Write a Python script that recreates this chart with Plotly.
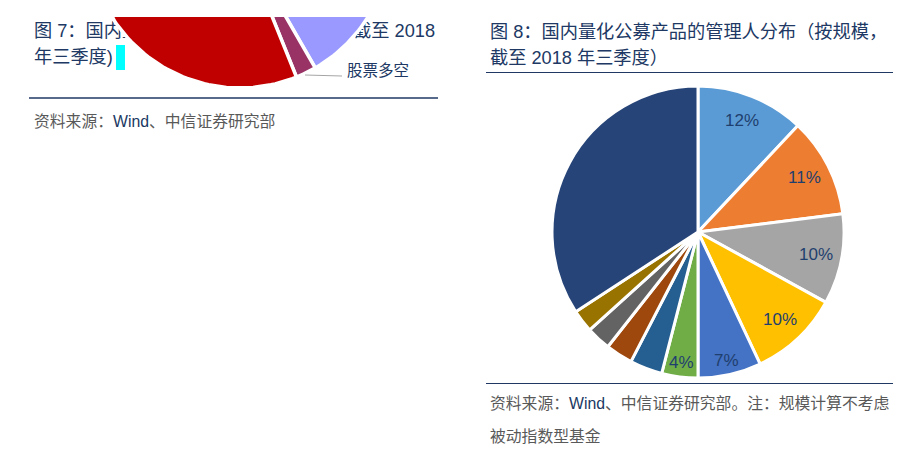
import numpy as np
import plotly.graph_objects as go

W, H = 904, 466

# ---------- Figure 8 data (manager distribution by AUM) ----------
mgr_labels = ["管理人1", "管理人2", "管理人3", "管理人4", "管理人5", "管理人6",
              "管理人7", "管理人8", "管理人9", "管理人10", "其他"]
mgr_values = [12, 11, 10, 10, 7, 4, 3.6, 3.0, 2.7, 2.5, 34.2]
mgr_text = ["12%", "11%", "10%", "10%", "7%", "4%", "", "", "", "", ""]
mgr_colors = ["#5B9BD5", "#ED7D31", "#A5A5A5", "#FFC000", "#4472C4", "#70AD47",
              "#255E91", "#9E480E", "#636363", "#997300", "#264478"]

# ---------- Figure 7 data (partially visible pie, product types) ----------
type_labels = ["量化对冲", "指数增强", "股票多空", "主动量化"]
type_values = [14.0, 27.7, 2.2, 56.1]
type_colors = ["#FF8080", "#9999FF", "#993366", "#C00000"]

NAVY = "#203864"
GREY = "#595959"
FONT = "Liberation Sans, Arial, Noto Sans CJK SC, sans-serif"

def px(x):
    return x / W

def py(y):
    return 1 - y / H

fig = go.Figure()

# text of figure 7 title (drawn beneath the overflowing pie)
fig.add_trace(go.Scatter(x=[34], y=[-32], mode="text", text=["图 7：国内量化公募"],
                         textposition="middle right",
                         textfont=dict(size=18.2, color=NAVY, family=FONT),
                         hoverinfo="skip", showlegend=False))
fig.add_trace(go.Scatter(x=[435], y=[-32], mode="text", text=["产品的类型分布（按规模，截至 2018"],
                         textposition="middle left",
                         textfont=dict(size=18.2, color=NAVY, family=FONT),
                         hoverinfo="skip", showlegend=False))
fig.add_trace(go.Scatter(x=[34], y=[-58], mode="text", text=["年三季度)"],
                         textposition="middle right",
                         textfont=dict(size=18.2, color=NAVY, family=FONT),
                         hoverinfo="skip", showlegend=False))

# overflowing pie of figure 7, wedges built from the values
cx, cy, r = 240, 63, 151
cum = np.concatenate([[0], np.cumsum(type_values)]) / np.sum(type_values) * 2 * np.pi
for i, lab in enumerate(type_labels):
    th = np.linspace(cum[i], cum[i + 1], 120)
    xs = np.concatenate([[cx], cx + r * np.sin(th), [cx]])
    ys = np.concatenate([[cy], cy + r * np.cos(th), [cy]])
    fig.add_trace(go.Scatter(x=xs, y=ys, mode="lines", fill="toself",
                             fillcolor=type_colors[i],
                             line=dict(color="white", width=3.5),
                             name=lab, hoverinfo="name", showlegend=False))

# figure 8 pie
pc_x, pc_y, pr = 698, 232, 146
fig.add_trace(go.Pie(
    labels=mgr_labels, values=mgr_values,
    textinfo="none",
    sort=False, direction="clockwise", rotation=0,
    marker=dict(colors=mgr_colors, line=dict(color="white", width=3)),
    domain=dict(x=[px(pc_x - pr), px(pc_x + pr)], y=[py(pc_y + pr), py(pc_y - pr)]),
    showlegend=False, hoverinfo="label+percent"))

shapes = [
    # cyan cursor block
    dict(type="rect", xref="x", yref="y", x0=116, x1=125, y0=-70, y1=-45,
         fillcolor="#00FFFF", line=dict(width=0), layer="below"),
    # separator lines
    dict(type="line", xref="paper", yref="paper", x0=px(29), x1=px(438), y0=py(98), y1=py(98),
         line=dict(color="#1F3864", width=1.5)),
    dict(type="line", xref="paper", yref="paper", x0=px(486), x1=px(893), y0=py(72.5), y1=py(72.5),
         line=dict(color="#203864", width=1)),
    dict(type="line", xref="paper", yref="paper", x0=px(486), x1=px(893), y0=py(383.5), y1=py(383.5),
         line=dict(color="#203864", width=1.2)),
    # leader line for 股票多空
    dict(type="line", xref="paper", yref="paper", x0=px(305), x1=px(342), y0=py(75), y1=py(76),
         line=dict(color="#A6A6A6", width=1.2)),
]

def ann(x, y, text, size, color=NAVY, anchor="left"):
    return dict(x=px(x), y=py(y), xref="paper", yref="paper", text=text, showarrow=False,
                xanchor=anchor, yanchor="middle",
                font=dict(size=size, color=color, family=FONT))

wind = "<span style='color:#203864'>Wind</span>"
annotations = [
    ann(345, 71, "股票多空", 15.5),
    ann(32, 122, "资料来源：" + wind + "、中信证券研究部", 15.8, GREY),
    ann(488, 32, "图 8：国内量化公募产品的管理人分布（按规模，", 18.2),
    ann(488, 58, "截至 2018 年三季度）", 18.2),
    ann(488, 403, "资料来源：" + wind + "、中信证券研究部。注：规模计算不考虑", 15.8, GREY),
    ann(488, 436, "被动指数型基金", 15.8, GREY),
]

# percentage labels of the figure 8 pie, placed at each slice's mid-angle
tot = float(np.sum(mgr_values))
cum8 = np.concatenate([[0], np.cumsum(mgr_values)]) / tot * 2 * np.pi
for i, t in enumerate(mgr_text):
    if not t:
        continue
    mid = 0.5 * (cum8[i] + cum8[i + 1])
    rr = pr * (0.82 if mgr_values[i] >= 10 else 0.9)
    annotations.append(dict(
        x=px(pc_x + rr * np.sin(mid)), y=py(pc_y - rr * np.cos(mid)),
        xref="paper", yref="paper", text=t, showarrow=False,
        xanchor="center", yanchor="middle",
        font=dict(size=17, color="#1F3F6E", family=FONT)))

fig.update_layout(
    width=W, height=H, margin=dict(l=0, r=0, t=0, b=0),
    paper_bgcolor="white", plot_bgcolor="white",
    xaxis=dict(domain=[0, px(450)], range=[0, 450], visible=False, fixedrange=True),
    yaxis=dict(domain=[py(100), py(17)], range=[-100, -17], visible=False, fixedrange=True),
    shapes=shapes, annotations=annotations,
)

fig.write_html("out.html")
